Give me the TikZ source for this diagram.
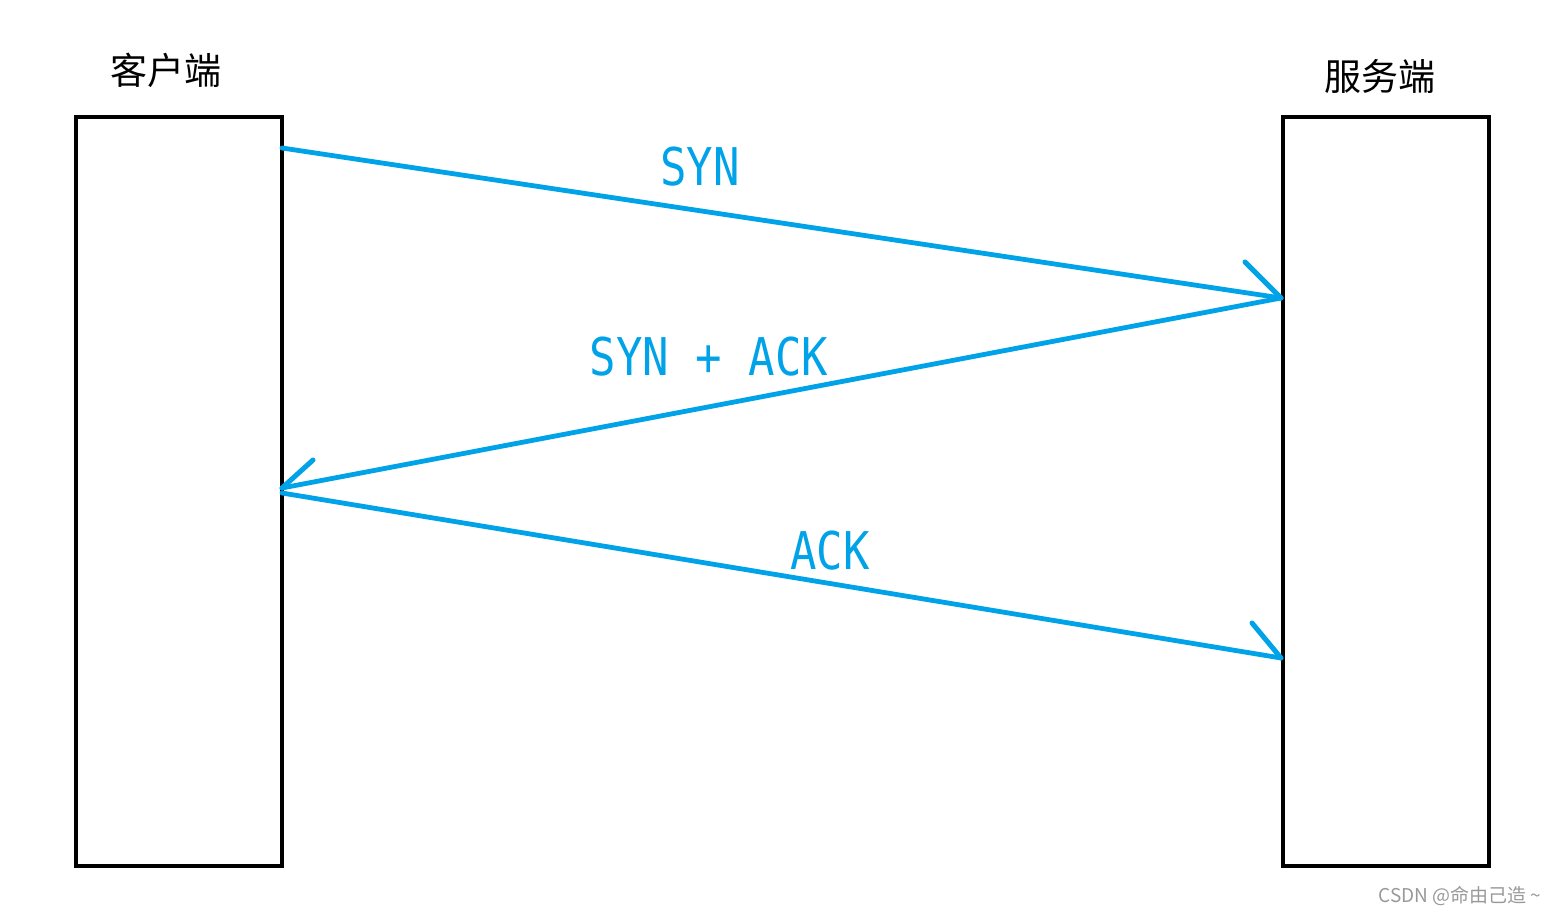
\documentclass[tikz,border=0pt]{standalone}
\usepackage{fontspec}
\newfontfamily\cjk{Noto Sans CJK SC}
\newfontfamily\monof{DejaVu Sans Mono}
\definecolor{paintblue}{HTML}{00A2E8}
\begin{document}
\begin{tikzpicture}[x=0.5pt,y=-0.5pt,
  box/.style={draw=black,line width=2.1pt},
  msg/.style={draw=paintblue,line width=2.4pt,line cap=round},
  barb/.style={draw=paintblue,line width=2.5pt,line cap=round},
  lbl/.style={text=paintblue,font=\monof\fontsize{26pt}{26pt}\selectfont,inner sep=0pt},
  title/.style={font=\cjk\fontsize{18.5pt}{20pt}\selectfont,inner sep=0pt}]
\useasboundingbox (0,0) rectangle (1558,915);
\draw[box] (76,117) rectangle (282,866);
\draw[box] (1283,117) rectangle (1489,866);
\node[title] (cl) at (166,70) {客户端};
\node[title] (sv) at (1380,76) {服务端};
\coordinate (a1) at (282,148);
\coordinate (a2) at (1281,298);
\coordinate (a3) at (282,488);
\coordinate (a4) at (282,493);
\coordinate (a5) at (1281,658);
\coordinate (b1) at (1245,262);
\coordinate (b2) at (313,460);
\coordinate (b3) at (1252,623);
\draw[msg] (a1) -- (a2);
\draw[barb] (b1) -- (a2);
\draw[msg] (a2) -- (a3);
\draw[barb] (b2) -- (a3);
\draw[msg] (a4) -- (a5);
\draw[barb] (b3) -- (a5);
\node[lbl] (l1) at (700,167) {\scalebox{0.845}[1]{SYN}};
\node[lbl] (l2) at (709,357) {\scalebox{0.845}[1]{SYN + ACK}};
\node[lbl] (l3) at (830,551) {\scalebox{0.845}[1]{ACK}};
\node[text=black!40,font=\cjk\fontsize{9.5pt}{10pt}\selectfont,inner sep=0pt] (wm) at (1460,896) {CSDN @命由己造 \textasciitilde};
\end{tikzpicture}
\end{document}
